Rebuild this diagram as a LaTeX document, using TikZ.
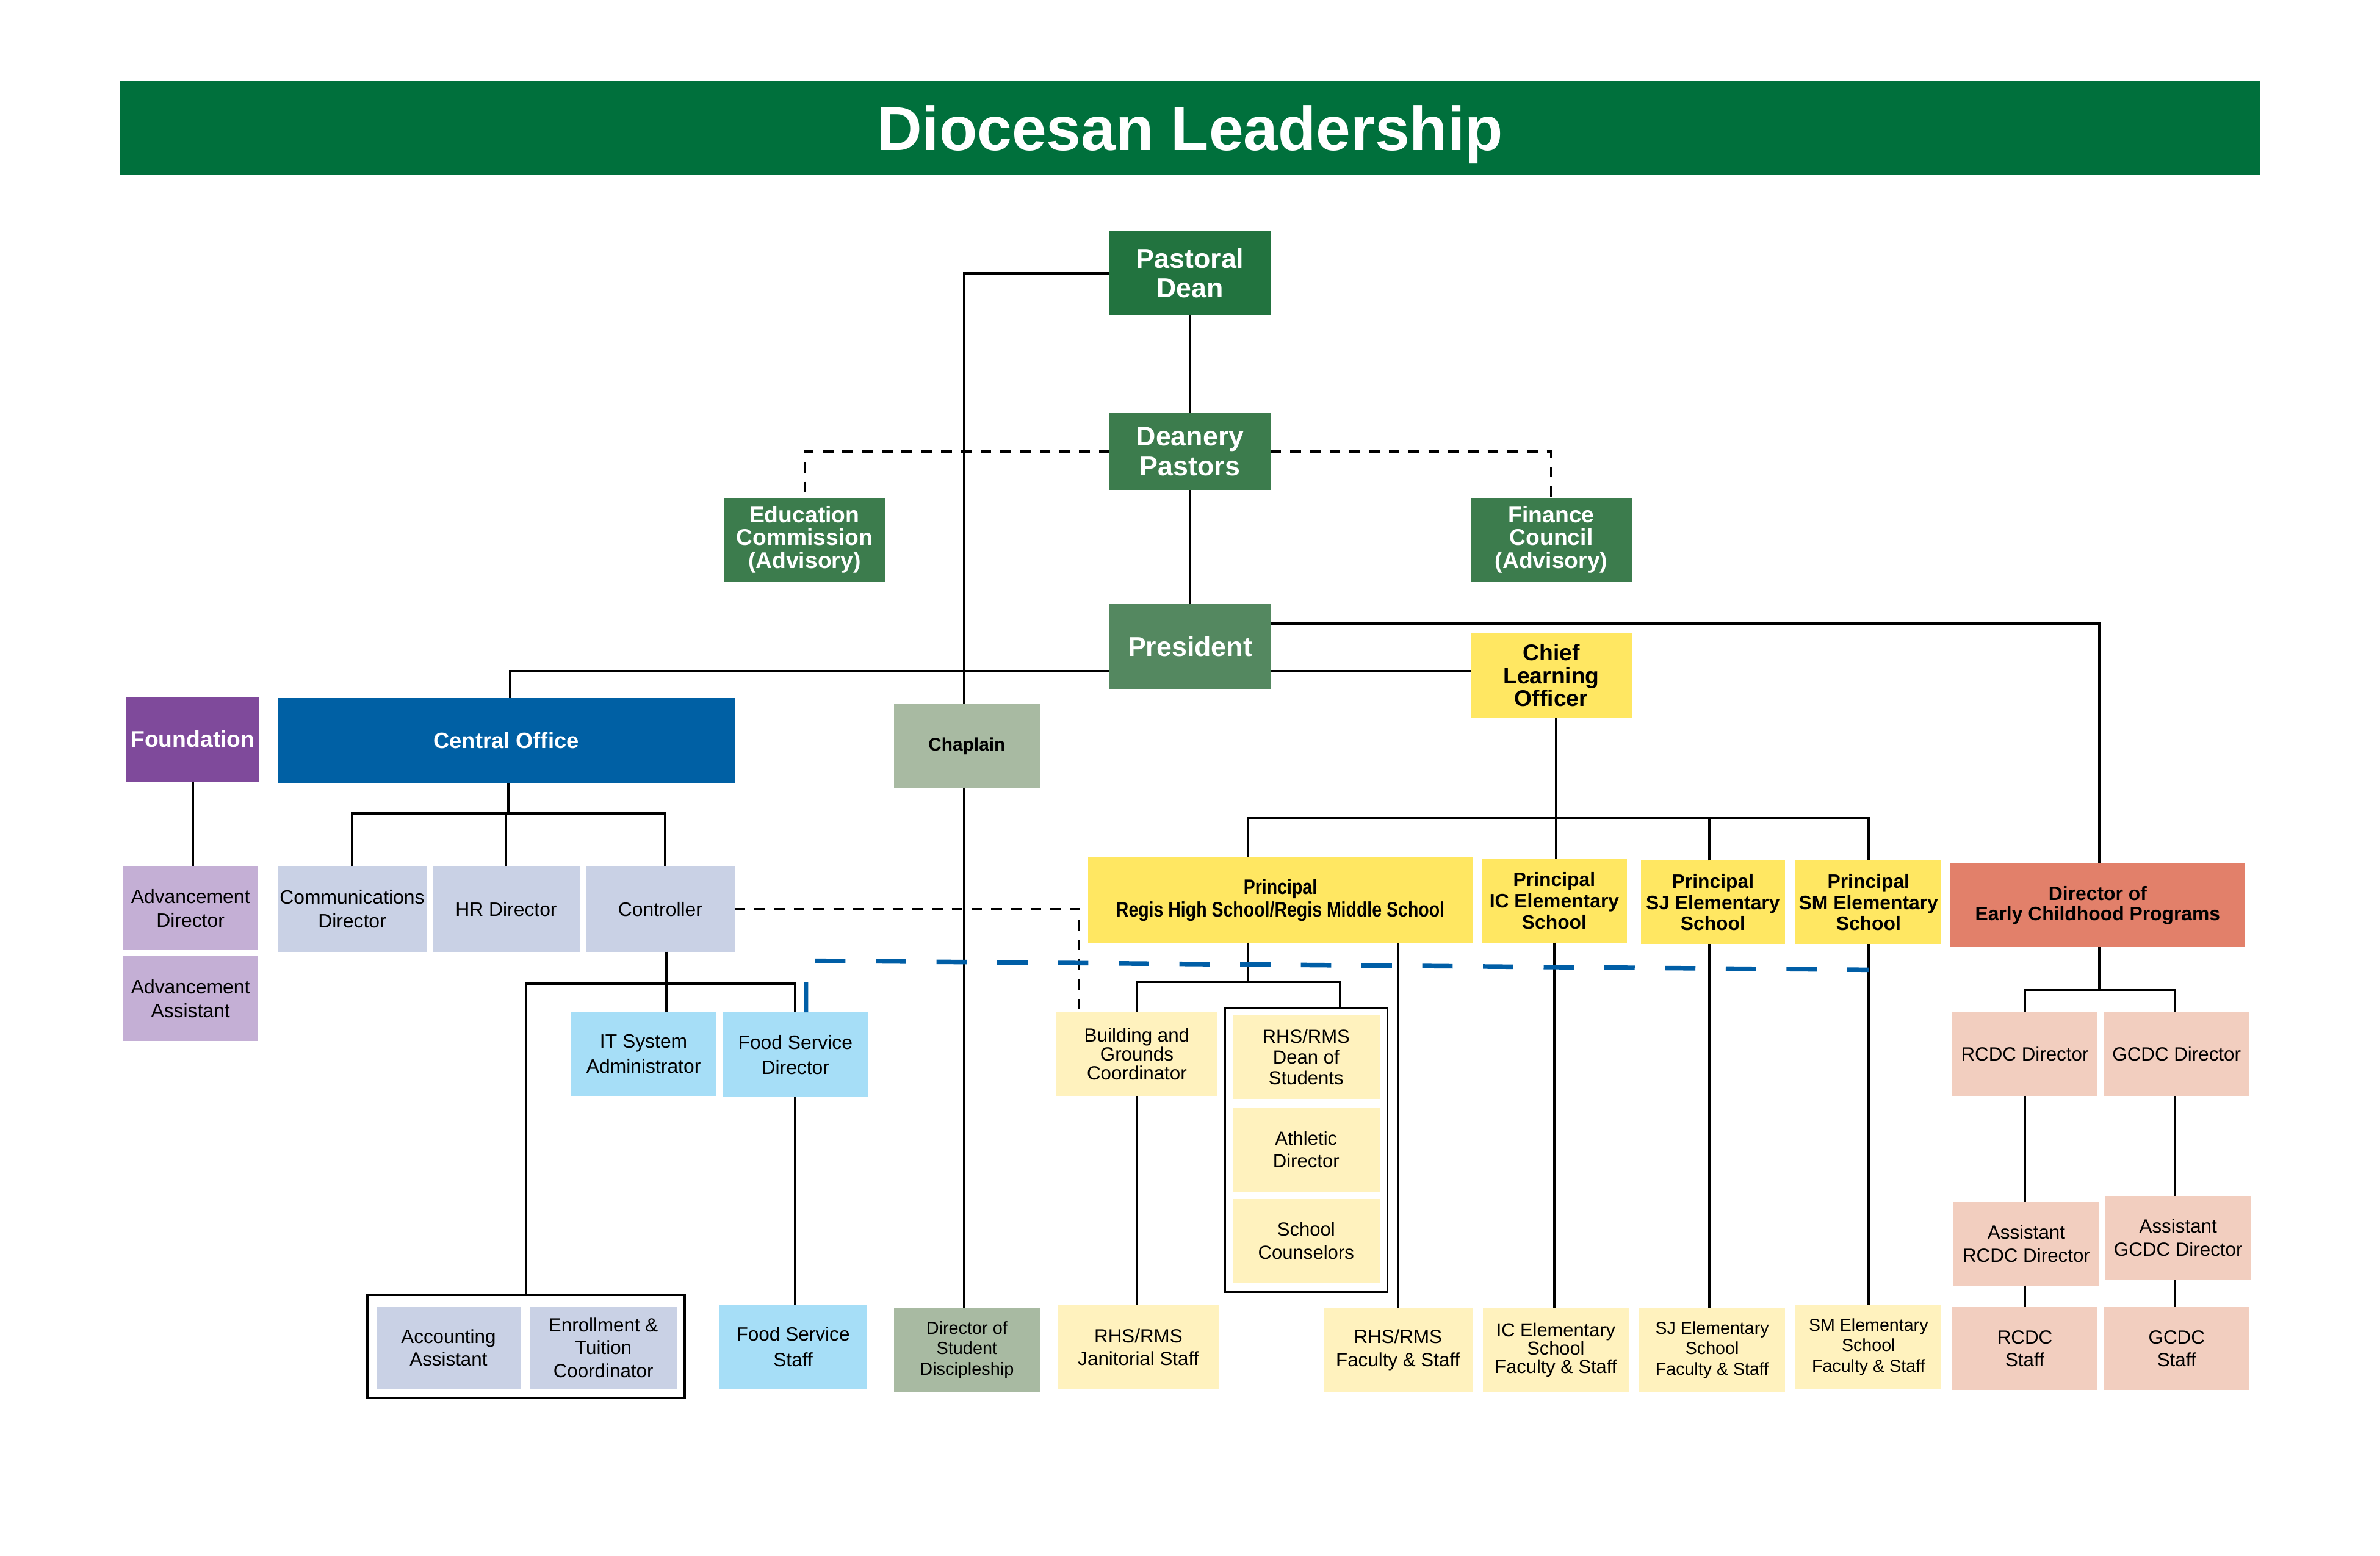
\documentclass[tikz,border=0pt]{standalone}
\usepackage{fontspec}
\setmainfont{Liberation Sans}
\newfontfamily\narrowfont[FakeStretch=0.83]{Liberation Sans}
\definecolor{cTitle}{HTML}{00703C}
\definecolor{cPD}{HTML}{22733F}
\definecolor{cDP}{HTML}{3C7C4D}
\definecolor{cPres}{HTML}{548860}
\definecolor{cYel}{HTML}{FFE762}
\definecolor{cLYel}{HTML}{FFF2BE}
\definecolor{cPurp}{HTML}{7F4A9B}
\definecolor{cPlum}{HTML}{C4AFD5}
\definecolor{cBlue}{HTML}{0060A4}
\definecolor{cGray}{HTML}{A8BAA2}
\definecolor{cLgb}{HTML}{C9D1E5}
\definecolor{cCyan}{HTML}{A6DEF7}
\definecolor{cSal}{HTML}{E2806A}
\definecolor{cLSal}{HTML}{F2CEBF}
\definecolor{cBlueLine}{HTML}{005EA6}
\tikzset{
  bx/.style={inner sep=0pt, outer sep=0pt, align=center, anchor=center},
  sz/.style 2 args={minimum width=#1pt, minimum height=#2pt},
  con/.style={line width=1.5pt, black},
  dsh/.style={line width=1.3pt, black, dash pattern=on 7pt off 6pt},
  bluedsh/.style={line width=3pt, cBlueLine, dash pattern=on 20pt off 20pt},
  grpbox/.style={draw=black, line width=1.5pt, fill=white, inner sep=0pt},
  fBig/.style={font=\bfseries\fontsize{18}{19.5}\selectfont},
  fMid/.style={font=\bfseries\fontsize{15}{15}\selectfont},
  fPri/.style={font=\bfseries\fontsize{12.8}{14}\selectfont},
  fReg/.style={font=\fontsize{12.8}{15.5}\selectfont},
  fTight/.style={font=\fontsize{12.6}{12.5}\selectfont},
  fSmall/.style={font=\fontsize{11.6}{13.5}\selectfont},
  green1/.style={bx, fill=cPD, text=white, fBig},
  green2/.style={bx, fill=cDP, text=white},
  green3/.style={bx, fill=cPres, text=white, fBig},
  yel/.style={bx, fill=cYel, text=black},
  lyel/.style={bx, fill=cLYel, text=black},
  purp/.style={bx, fill=cPurp, text=white, fMid},
  plum/.style={bx, fill=cPlum, text=black, fReg},
  blu/.style={bx, fill=cBlue, text=white, font=\bfseries\fontsize{14.6}{16}\selectfont},
  gry/.style={bx, fill=cGray, text=black},
  lgb/.style={bx, fill=cLgb, text=black, fReg},
  cyn/.style={bx, fill=cCyan, text=black, fReg},
  sal/.style={bx, fill=cSal, text=black, font=\bfseries\fontsize{12.8}{13.5}\selectfont},
  lsal/.style={bx, fill=cLSal, text=black, font=\fontsize{12.6}{15}\selectfont},
}
\begin{document}
\begin{tikzpicture}[x=1pt,y=-1pt]
\fill[white] (0,0) rectangle (1568,1025);
\useasboundingbox (0,0) rectangle (1568,1025);

% title
\fill[cTitle] (79,53) rectangle (1489,115);
\node[bx, text=white, text height=30pt, text depth=0pt, font=\bfseries\fontsize{41}{45}\selectfont] (title) at (784,84) {Diocesan Leadership};

% top levels
\node[green1, sz={106}{56}] (pd) at (784,180) {Pastoral\\Dean};
\node[green2, fBig, sz={106}{51}] (dp) at (784,297.5) {Deanery\\Pastors};
\node[green2, fMid, sz={106}{55}] (ec) at (530,355.5) {Education\\Commission\\(Advisory)};
\node[green2, fMid, sz={106}{55}] (fc) at (1022,355.5) {Finance\\Council\\(Advisory)};
\node[green3, sz={106}{56}] (pres) at (784,426) {President};
\node[yel, fMid, sz={106}{56}] (clo) at (1022,445) {Chief\\Learning\\Officer};

% second row
\node[purp, sz={88}{56}] (fdn) at (127,487) {Foundation};
\node[blu, sz={301}{56}] (co) at (333.5,488) {Central Office};
\node[gry, sz={96}{55}, font=\bfseries\fontsize{12}{14}\selectfont] (chap) at (637,491.5) {Chaplain};

\node[plum, sz={89}{55}] (advd) at (125.5,598.5) {Advancement\\Director};
\node[plum, sz={89}{56}] (adva) at (125.5,658) {Advancement\\Assistant};

\node[lgb, sz={98}{56}] (comm) at (232,599) {Communications\\Director};
\node[lgb, sz={97}{56}] (hr) at (333.5,599) {HR Director};
\node[lgb, sz={98}{56}] (ctrl) at (435,599) {Controller};

\node[cyn, sz={96}{55}, font=\fontsize{12.8}{16.5}\selectfont] (itsa) at (424,694.5) {IT System\\Administrator};
\node[cyn, sz={96}{56}, font=\fontsize{12.8}{16.5}\selectfont] (fsd) at (524,695) {Food Service\\Director};

% principals
\node[yel, sz={253}{56}, font=\narrowfont\bfseries\fontsize{13.8}{15}\selectfont] (regis) at (843.5,593) {Principal\\Regis High School/Regis Middle School};
\node[yel, fPri, sz={96}{55}] (ic) at (1024,593.5) {Principal\\IC Elementary\\School};
\node[yel, fPri, sz={95}{55}] (sj) at (1128.5,594.5) {Principal\\SJ Elementary\\School};
\node[yel, fPri, sz={96}{55}] (sm) at (1231,594.5) {Principal\\SM Elementary\\School};
\node[sal, sz={194}{55}] (decp) at (1382,596.5) {Director of\\Early Childhood Programs};

% RHS sub
\node[lyel, fTight, sz={106}{55}] (bgc) at (749,694.5) {Building and\\Grounds\\Coordinator};
\node[grpbox, sz={107}{187}] (grp) at (860.5,757.5) {};
\node[lyel, sz={97}{55}, font=\fontsize{12.5}{13.5}\selectfont] (dean) at (860.5,696.5) {RHS/RMS\\Dean of\\Students};
\node[lyel, sz={97}{55}, font=\fontsize{12.5}{14.7}\selectfont] (ath) at (860.5,757.5) {Athletic\\Director};
\node[lyel, sz={97}{55}, font=\fontsize{12.5}{15.3}\selectfont] (couns) at (860.5,817.5) {School\\Counselors};

% early childhood
\node[lsal, sz={96}{55}] (rcdcd) at (1334,694.5) {RCDC Director};
\node[lsal, sz={96}{55}] (gcdcd) at (1434,694.5) {GCDC Director};
\node[lsal, sz={96}{55}] (arcdc) at (1335,819.5) {Assistant\\RCDC Director};
\node[lsal, sz={96}{55}] (agcdc) at (1435,815.5) {Assistant\\GCDC Director};
\node[lsal, sz={96}{55}] (rcdcs) at (1334,888.5) {RCDC\\Staff};
\node[lsal, sz={96}{55}] (gcdcs) at (1434,888.5) {GCDC\\Staff};

% bottom row
\node[grpbox, sz={209}{68}] (acctgrp) at (346.5,887) {};
\node[lgb, sz={95}{54}, font=\fontsize{12.6}{15}\selectfont] (acct) at (295.5,888) {Accounting\\Assistant};
\node[lgb, sz={97}{54}, font=\fontsize{12.6}{15}\selectfont] (enr) at (397.5,888) {Enrollment \&\\Tuition\\Coordinator};
\node[cyn, sz={97}{55}, font=\fontsize{12.7}{17}\selectfont] (fss) at (522.5,887.5) {Food Service\\Staff};
\node[gry, fSmall, sz={96}{55}] (dsd) at (637,889.5) {Director of\\Student\\Discipleship};
\node[lyel, sz={106}{55}, font=\fontsize{12.6}{15}\selectfont] (jan) at (750,887.5) {RHS/RMS\\Janitorial Staff};
\node[lyel, sz={98}{55}, font=\fontsize{12.6}{15}\selectfont] (rhsf) at (921,889.5) {RHS/RMS\\Faculty \& Staff};
\node[lyel, sz={96}{55}, font=\fontsize{12.4}{12}\selectfont] (icf) at (1025,889.5) {IC Elementary\\School\\Faculty \& Staff};
\node[lyel, sz={96}{55}, font=\fontsize{11.5}{13.5}\selectfont] (sjf) at (1128,889.5) {SJ Elementary\\School\\Faculty \& Staff};
\node[lyel, sz={96}{55}, font=\fontsize{11.5}{13.5}\selectfont] (smf) at (1231,887.5) {SM Elementary\\School\\Faculty \& Staff};

% helper coordinates (branch points)
\coordinate (cb) at (1025,539);
\coordinate (cob) at (335,536);
\coordinate (ctb) at (439,648);
\coordinate (rb) at (822,647);
\coordinate (db) at (1383,652);
\coordinate (bs) at (531,633);
\coordinate (be) at (1231,639);

% connectors
\draw[con] (pd.south) -- (dp.north);
\draw[con] (dp.south) -- (pres.north);
\draw[con] (pd.west) -| ([xshift=-2pt]chap.north);
\draw[con] ([xshift=-2pt]chap.south) -- ([xshift=-2pt]dsd.north);
\draw[dsh] (dp.west) -| (ec.north);
\draw[dsh] (dp.east) -| (fc.north);
\draw[con] ([yshift=15pt]pres.east) -| ([xshift=1pt]decp.north);
\draw[con] ([yshift=-16pt]pres.west) -| ([xshift=2.5pt]co.north);
\draw[con] ([yshift=-16pt]pres.east) -- ([yshift=-16pt]pres.east -| clo.west);
\draw[con] ([xshift=3pt]clo.south) -- ([xshift=3pt]clo.south |- ic.north);
\draw[con] ([xshift=-21.5pt]regis.north) |- (cb) -| (sm.north);
\draw[con] ([xshift=-2.5pt]sj.north) -- ([xshift=-2.5pt]sj.north |- cb);

\draw[con] (fdn.south) -- (fdn.south |- advd.north);
\draw[con] ([xshift=1.5pt]co.south) -- (cob);
\draw[con] (comm.north) |- (cob) -| ([xshift=3pt]ctrl.north);
\draw[con] (hr.north) -- (hr.north |- cob);

\draw[con] ([xshift=4pt]ctrl.south) -- ([xshift=4pt]ctrl.south |- itsa.north);
\draw[con] (acctgrp.north) |- (ctb) -| (fsd.north);
\draw[con] (fsd.south) -- (fsd.south |- fss.north);
\draw[dsh] (ctrl.east) -| ([xshift=-38pt]bgc.north);

\draw[con] ([xshift=-21.5pt]regis.south) -- (rb);
\draw[con] (bgc.north) |- (rb) -| ([xshift=22.5pt]grp.north);
\draw[con] (rhsf.north |- regis.south) -- (rhsf.north);
\draw[con] (bgc.south) -- (bgc.south |- jan.north);
\draw[con] (ic.south) -- (ic.south |- icf.north);
\draw[con] ([xshift=-2pt]sjf.north |- sj.south) -- ([xshift=-2pt]sjf.north);
\draw[con] (sm.south) -- (smf.north);

\draw[con] ([xshift=1pt]decp.south) -- (db);
\draw[con] (rcdcd.north) |- (db) -| ([xshift=-1pt]gcdcd.north);
\draw[con] (rcdcd.south) -- (rcdcd.south |- arcdc.north);
\draw[con] (rcdcd.south |- arcdc.south) -- (rcdcd.south |- rcdcs.north);
\draw[con] ([xshift=-1pt]gcdcd.south) -- ([xshift=-1pt]gcdcd.south |- agcdc.north);
\draw[con] ([xshift=-1pt]gcdcd.south |- agcdc.south) -- ([xshift=-1pt]gcdcd.south |- gcdcs.north);

\draw[bluedsh] ([xshift=7pt]fsd.north) -- (bs) -- (be);
\end{tikzpicture}
\end{document}
